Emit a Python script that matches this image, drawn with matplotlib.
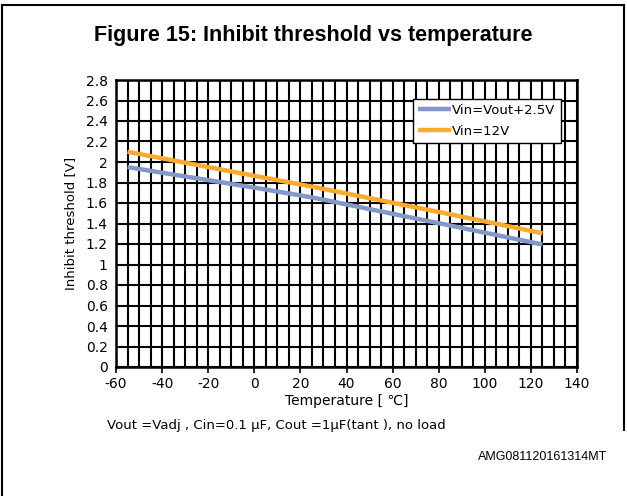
import matplotlib
matplotlib.use("Agg")
import matplotlib.pyplot as plt
import numpy as np
from matplotlib.lines import Line2D

temps = [-55, 0, 25, 85, 125]
vin_vout = [1.95, 1.75, 1.655, 1.38, 1.195]
vin_12 = [2.10, 1.865, 1.76, 1.49, 1.305]
series_labels = ["Vin=Vout+2.5V", "Vin=12V"]
xticks = list(range(-60, 141, 20))
yticks = [round(0.2 * i, 1) for i in range(15)]
ytick_labels = ["0", "0.2", "0.4", "0.6", "0.8", "1", "1.2", "1.4", "1.6", "1.8", "2", "2.2", "2.4", "2.6", "2.8"]

plt.rcParams['font.family'] = ['DejaVu Sans']
plt.rcParams['axes.unicode_minus'] = False

fig = plt.figure(figsize=(6.27, 4.96), dpi=100)
ax = fig.add_axes([116/627, 1-367/496, (577-116)/627, (367-80)/496])

ax.set_xlim(-60, 140)
ax.set_ylim(0, 2.8)
ax.set_xticks(xticks)
ax.set_xticks(np.arange(-60, 141, 5), minor=True)
ax.set_yticks(yticks)
ax.set_yticklabels(ytick_labels)
ax.grid(which='both', axis='x', color='black', lw=1.5)
ax.grid(which='major', axis='y', color='black', lw=1.5)
ax.tick_params(axis='x', which='major', direction='out', length=4, width=1.2, labelsize=10, pad=3)
ax.tick_params(axis='x', which='minor', length=0)
ax.tick_params(axis='y', length=0, labelsize=10, pad=6)
for s in ax.spines.values():
    s.set_linewidth(1.8)
    s.set_color('black')
ax.set_axisbelow(True)

ax.plot(temps, vin_vout, color='#8497C9', lw=3.2, label=series_labels[0], solid_capstyle='butt')
ax.plot(temps, vin_12, color='#FAAA2D', lw=3.2, label=series_labels[1], solid_capstyle='butt')

leg = ax.legend(loc='upper right', bbox_to_anchor=(0.965, 0.935), fontsize=9.5,
                frameon=True, fancybox=False, edgecolor='black', framealpha=1,
                handlelength=2.5, handletextpad=0.1, borderpad=0.4, labelspacing=0.6,
                borderaxespad=0)
leg.get_frame().set_linewidth(1.0)

ax.set_ylabel("Inhibit threshold [V]", fontsize=9.5, labelpad=6)
ax.set_xlabel("Temperature [ \u2103]", fontsize=10, labelpad=2)

fig.text(313/627, 1-36/496, "Figure 15: Inhibit threshold vs temperature",
         ha='center', va='center', fontsize=15.5, fontweight='bold', family='Liberation Sans')
fig.text(107/627, 1-426/496, "Vout =Vadj , Cin=0.1 \u03bcF, Cout =1\u03bcF(tant ), no load",
         ha='left', va='center', fontsize=9.5)
fig.text(607/627, 1-457/496, "AMG081120161314MT", ha='right', va='center', fontsize=9,
         family='Liberation Sans')

# page frame: top and left edges (right edge stops before the bottom)
fig.add_artist(Line2D([2/627, 2/627], [0, 1-5/496], transform=fig.transFigure, color='black', lw=1.5))
fig.add_artist(Line2D([2/627, 624/627], [1-5/496, 1-5/496], transform=fig.transFigure, color='black', lw=1.5))
fig.add_artist(Line2D([624/627, 624/627], [1-5/496, 1-430/496], transform=fig.transFigure, color='black', lw=1.5))

fig.savefig("out.png", dpi=100)
